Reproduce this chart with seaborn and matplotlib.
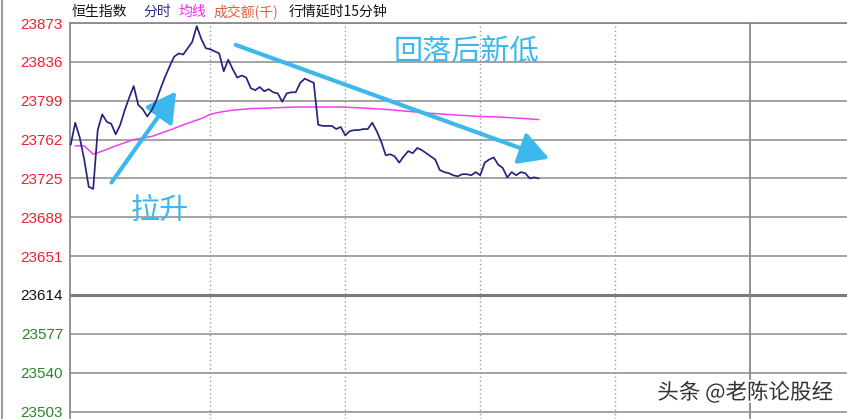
import matplotlib
matplotlib.use("Agg")
import matplotlib.pyplot as plt
import matplotlib.patheffects as pe
import pandas as pd
import seaborn as sns

# 恒生指数 intraday, one value per minute from 9:30
price = [23757, 23778, 23764, 23743, 23717, 23715, 23771, 23786, 23779, 23777,
         23767, 23776, 23790, 23802, 23813, 23795, 23791, 23784, 23790, 23799,
         23811, 23822, 23832, 23841, 23844, 23843, 23849, 23855, 23870, 23858,
         23849, 23848, 23846, 23844, 23827, 23838, 23829, 23821, 23823, 23821,
         23811, 23809, 23812, 23808, 23810, 23807, 23806, 23798, 23806, 23807,
         23807, 23816, 23820, 23818, 23816, 23776, 23775, 23775, 23775, 23772,
         23774, 23766, 23770, 23771, 23771, 23772, 23772, 23778, 23770, 23760,
         23747, 23748, 23746, 23740, 23746, 23751, 23749, 23754, 23752, 23749,
         23746, 23743, 23733, 23731, 23730, 23728, 23727, 23729, 23729, 23728,
         23731, 23728, 23740, 23743, 23745, 23738, 23735, 23726, 23731, 23728,
         23731, 23730, 23725, 23726, 23725]

# 均线 (average line), read at a few minutes
avg_minutes = [1, 3, 5, 7, 10, 14, 18, 22, 25, 29, 31, 33, 36, 40, 44, 50,
               55, 60, 65, 69, 72, 80, 87, 91, 95, 101, 104]
avg_values = [23756, 23756, 23748, 23751, 23756, 23762, 23765, 23771, 23776,
              23782, 23786, 23788, 23790, 23791.5, 23792, 23793, 23793, 23793,
              23792, 23791, 23790, 23787, 23785, 23784, 23783.5, 23782, 23781]

y_levels = [23873, 23836, 23799, 23762, 23725, 23688, 23651, 23614, 23577, 23540, 23503]
prev_close = 23614
half_hours = [31, 61, 91, 121]
midday = 151

df_price = pd.DataFrame({"minute": range(len(price)), "price": price})
df_avg = pd.DataFrame({"minute": avg_minutes, "avg": avg_values})

sns.set_style("white")
plt.rcParams['font.family'] = ['Noto Sans CJK SC', 'DejaVu Sans']

fig = plt.figure(figsize=(8.47, 4.19), dpi=100)
ax = fig.add_axes([70 / 847, 0, 777 / 847, 396 / 419])

grid_col = '#8a8a8a'
for lv in y_levels:
    if lv == prev_close:
        ax.axhline(lv, color='#7a7a7a', lw=2.2, zorder=1)
    else:
        ax.axhline(lv, color=grid_col, lw=1.1, zorder=1)
for m in half_hours:
    ax.axvline(m, color='#9a9a9a', lw=1.0, ls=(0, (1, 2)), zorder=1)
ax.axvline(midday, color=grid_col, lw=1.3, zorder=1)

sns.lineplot(data=df_avg, x="minute", y="avg", ax=ax, color='#f040f0', lw=1.1, zorder=3)
sns.lineplot(data=df_price, x="minute", y="price", ax=ax, color='#25257e', lw=1.25, zorder=4)

ax.set_xlim(-0.16, 172.5)
ax.set_ylim(23495.9, 23873)
ax.set_xlabel('')
ax.set_ylabel('')
ax.set_xticks([])
ax.set_yticks(y_levels)
ax.set_yticklabels([str(v) for v in y_levels], family='Liberation Sans', fontsize=11)
ax.tick_params(axis='y', length=0, pad=5)
for lbl, v in zip(ax.get_yticklabels(), y_levels):
    if v > prev_close:
        lbl.set_color('#e8232f')
    elif v < prev_close:
        lbl.set_color('#2a862a')
    else:
        lbl.set_color('#111111')

for s in ['right', 'bottom']:
    ax.spines[s].set_visible(False)
for s in ['left', 'top']:
    ax.spines[s].set_color(grid_col)
    ax.spines[s].set_linewidth(1.3)

# annotations
cyan = '#3db8ec'
ax.annotate('', xy=(23.8, 23810), xytext=(8.7, 23719),
            arrowprops=dict(arrowstyle='-|>,head_length=0.9,head_width=0.5',
                            color=cyan, lw=3, mutation_scale=20))
ax.annotate('', xy=(106.9, 23743), xytext=(36.1, 23853),
            arrowprops=dict(arrowstyle='-|>,head_length=0.9,head_width=0.5',
                            color=cyan, lw=3, mutation_scale=20))
ax.text(19.8, 23693, '拉升', color=cyan, fontsize=21, ha='center', va='center')
ax.text(88, 23846, '回落后新低', color=cyan, fontsize=21, ha='center', va='center')

# header line
hy = 1 - 12 / 419
fig.text(72 / 847, hy, '恒生指数', color='#111111', fontsize=10, va='center')
fig.text(143 / 847, hy, '分时', color='#2b2b8c', fontsize=10, va='center')
fig.text(178 / 847, hy, '均线', color='#ff20ff', fontsize=10, va='center')
fig.text(213 / 847, hy, '成交额(千)', color='#e0603a', fontsize=10, va='center')
fig.text(289 / 847, hy, '行情延时15分钟', color='#111111', fontsize=10, va='center')

# outer frame on the left
fig.add_artist(plt.Line2D([2 / 847, 2 / 847], [0, 1], color='#9a9a9a', lw=1.5))

fig.text(833 / 847, 1 - 393 / 419, '头条 @老陈论股经', color='#333333', fontsize=15.5,
         ha='right', va='center',
         path_effects=[pe.withStroke(linewidth=3, foreground='white')])

fig.savefig('out.png', dpi=100)
